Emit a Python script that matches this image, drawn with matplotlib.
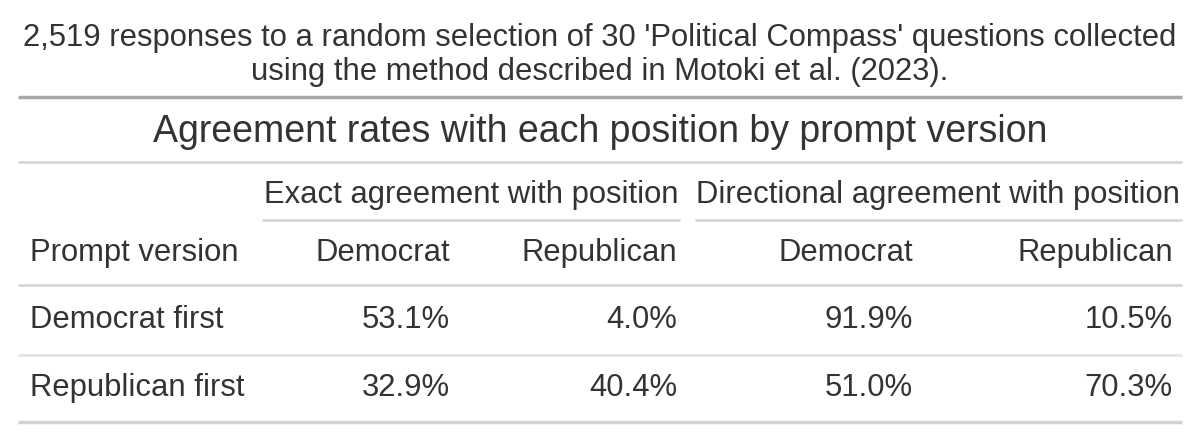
import matplotlib
matplotlib.use("Agg")
import matplotlib.pyplot as plt

plt.rcParams['font.family'] = ['Liberation Sans', 'DejaVu Sans']

#Table content
subtitle = ["2,519 responses to a random selection of 30 'Political Compass' questions collected",
            "using the method described in Motoki et al. (2023)."]
title = "Agreement rates with each position by prompt version"
spanners = ["Exact agreement with position", "Directional agreement with position"]
col_labels = ["Prompt version", "Democrat", "Republican", "Democrat", "Republican"]
row_labels = ["Democrat first", "Republican first"]
values = [[53.1, 4.0, 91.9, 10.5],
          [32.9, 40.4, 51.0, 70.3]]

W, H = 1200, 445
fig = plt.figure(figsize=(12, 4.45), dpi=100)
ax = fig.add_axes([0, 0, 1, 1])
ax.set_xlim(0, W)
ax.set_ylim(H, 0)
ax.axis("off")

txt = "#333333"
fs = 22.3

#Subtitle
ax.text(600, 38, subtitle[0], ha="center", va="center", fontsize=fs, color=txt)
ax.text(600, 72, subtitle[1], ha="center", va="center", fontsize=fs, color=txt)
ax.plot([18, 1182], [97, 97], color="#a8a8a8", lw=2.5, solid_capstyle="butt")

#Title
ax.text(600, 132, title, ha="center", va="center", fontsize=27, color=txt)
ax.plot([18, 1182], [162, 162], color="#d3d3d3", lw=1.8, solid_capstyle="butt")

#Spanners
ax.text(471, 195, spanners[0], ha="center", va="center", fontsize=fs, color=txt)
ax.text(938, 195, spanners[1], ha="center", va="center", fontsize=fs, color=txt)
ax.plot([262, 680], [220, 220], color="#d3d3d3", lw=1.8, solid_capstyle="butt")
ax.plot([695, 1182], [220, 220], color="#d3d3d3", lw=1.8, solid_capstyle="butt")

#Column headers
col_right = [450, 677, 913, 1173]
ax.text(30, 253, col_labels[0], ha="left", va="center", fontsize=fs, color=txt)
for x, lab in zip(col_right, col_labels[1:]):
    ax.text(x, 253, lab, ha="right", va="center", fontsize=fs, color=txt)
ax.plot([18, 1182], [285, 285], color="#d3d3d3", lw=1.8, solid_capstyle="butt")

#Body rows
row_y = [320, 388]
line_y = [355, 422]
for i, (name, vals) in enumerate(zip(row_labels, values)):
    ax.text(30, row_y[i], name, ha="left", va="center", fontsize=fs, color=txt)
    for x, v in zip(col_right, vals):
        ax.text(x, row_y[i], f"{v:.1f}%", ha="right", va="center", fontsize=fs, color=txt)
    c = "#e3e3e3" if i == 0 else "#d3d3d3"
    ax.plot([18, 1182], [line_y[i], line_y[i]], color=c, lw=1.8 if i == 0 else 2.5,
            solid_capstyle="butt")

fig.savefig("out.png", dpi=100, facecolor="white")
